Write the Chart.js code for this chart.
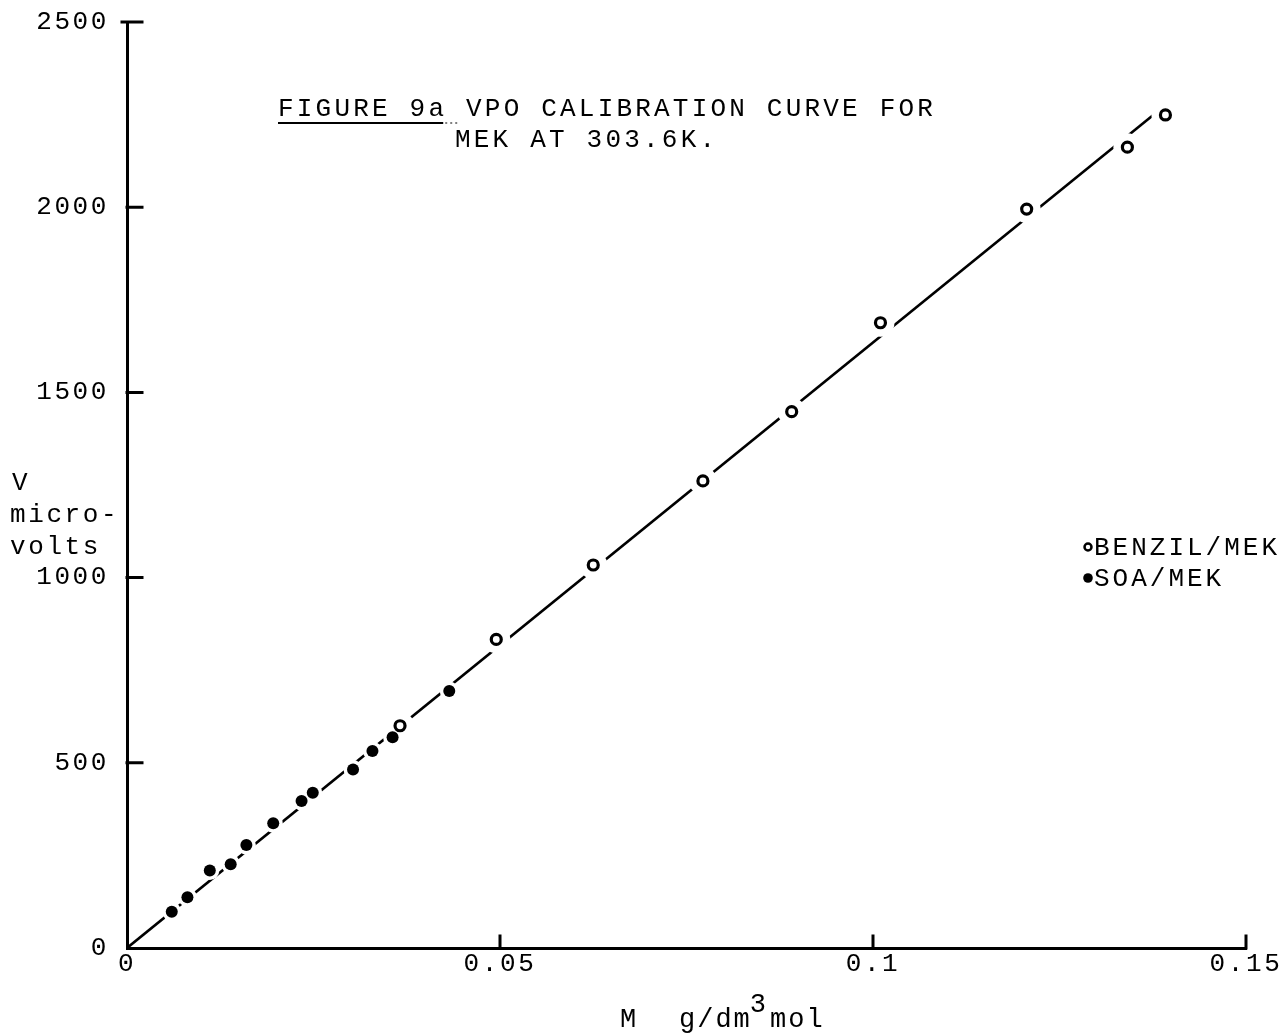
<!DOCTYPE html>
<html>
<head>
<meta charset="utf-8">
<script src="https://cdn.jsdelivr.net/npm/chart.js@4/dist/chart.umd.min.js"></script>
<style>
  html, body { margin: 0; padding: 0; background: #fff; }
  canvas { display: block; }
</style>
</head>
<body>
<canvas id="c" width="1286" height="1033"></canvas>
<script>
// Benzil in MEK (open circles): concentration M (g/dm3 mol) and signal V (microvolts)
const benzilX = [0.0366, 0.0495, 0.0625, 0.0772, 0.0891, 0.1010, 0.1206, 0.1341, 0.1392];
const benzilY = [600, 833, 1034, 1261, 1448, 1688, 1995, 2162, 2249];

// SOA in MEK (filled circles)
const soaX = [0.0060, 0.0081, 0.0111, 0.0139, 0.0160, 0.0196, 0.0234, 0.0249, 0.0303, 0.0329, 0.0356, 0.0432];
const soaY = [98, 137, 209, 226, 278, 337, 397, 419, 482, 532, 569, 694];

// Calibration line through the origin
const fitX = [0, 0.1391];
const fitY = [0, 2274];

// Axis ticks and labels
const xTickValues = [0, 0.05, 0.1, 0.15];
const xTickLabels = ['0', '0.05', '0.1', '0.15'];
const yTickValues = [0, 500, 1000, 1500, 2000, 2500];
const yTickLabels = ['0', '500', '1000', '1500', '2000', '2500'];

// Text blocks
const titleLines = ['FIGURE 9a VPO CALIBRATION CURVE FOR', 'MEK AT 303.6K.'];
const titleUnderlined = 'FIGURE 9a';
const yTitleLines = ['V', 'micro-', 'volts'];
const xTitleParts = ['M', 'g/dm', '3', 'mol'];
const legendLabels = ['BENZIL/MEK', 'SOA/MEK'];

const TYPE = '"Liberation Mono", "DejaVu Sans Mono", monospace';
const SPACING = '2.6px';

const pts = (xs, ys) => xs.map((x, i) => ({ x: x, y: ys[i] }));

// Typewriter spacing for every piece of text the chart draws
const spacingPlugin = {
  id: 'typeSpacing',
  beforeLayout(chart) { chart.ctx.letterSpacing = SPACING; },
  beforeDraw(chart) {
    const ctx = chart.ctx;
    ctx.save();
    ctx.fillStyle = '#fff';
    ctx.fillRect(0, 0, chart.width, chart.height);
    ctx.restore();
    ctx.letterSpacing = SPACING;
  }
};

// Inward tick marks on both axes
const innerTicks = {
  id: 'innerTicks',
  afterDatasetsDraw(chart) {
    const ctx = chart.ctx, xs = chart.scales.x, ys = chart.scales.y;
    ctx.save();
    ctx.strokeStyle = '#000';
    ctx.lineWidth = 3;
    ctx.lineCap = 'square';
    ctx.beginPath();
    xs.ticks.forEach(t => {
      if (t.value === 0) return;
      const px = xs.getPixelForValue(t.value);
      ctx.moveTo(px, ys.bottom);
      ctx.lineTo(px, ys.bottom - 12);
    });
    ys.ticks.forEach(t => {
      if (t.value === 0) return;
      const py = ys.getPixelForValue(t.value);
      const start = t.value === ys.max ? xs.left - 5 : xs.left;
      ctx.moveTo(start, py);
      ctx.lineTo(xs.left + 15, py);
    });
    ctx.stroke();
    ctx.restore();
  }
};

// Title, axis titles and key
const annotations = {
  id: 'annotations',
  afterDraw(chart) {
    const ctx = chart.ctx;
    ctx.save();
    ctx.fillStyle = '#000';
    ctx.strokeStyle = '#000';
    ctx.font = '26px ' + TYPE;
    ctx.letterSpacing = '3.2px';
    ctx.textBaseline = 'middle';
    ctx.textAlign = 'left';

    // figure title
    ctx.fillText(titleLines[0], 278, 109);
    ctx.fillText(titleLines[1], 455, 140);
    const uw = ctx.measureText(titleUnderlined).width;
    ctx.lineWidth = 2;
    ctx.beginPath();
    ctx.moveTo(278, 123);
    ctx.lineTo(278 + uw - 4, 123);
    ctx.stroke();
    ctx.lineWidth = 1.2;
    ctx.setLineDash([2, 3]);
    ctx.beginPath();
    ctx.moveTo(278 + uw - 2, 123);
    ctx.lineTo(458, 123);
    ctx.stroke();
    ctx.setLineDash([]);

    // y axis title (stacked, horizontal)
    ctx.letterSpacing = '2.6px';
    ctx.fillText(yTitleLines[0], 12, 483);
    ctx.fillText(yTitleLines[1], 10, 515);
    ctx.fillText(yTitleLines[2], 10, 547);

    // x axis title with superscript
    ctx.font = '27px ' + TYPE;
    ctx.letterSpacing = '2px';
    ctx.fillText(xTitleParts[0], 620, 1020);
    let x = 679;
    ctx.fillText(xTitleParts[1], x, 1020);
    x += ctx.measureText(xTitleParts[1]).width;
    ctx.fillText(xTitleParts[2], x - 2, 1005);
    x += ctx.measureText(xTitleParts[2]).width;
    ctx.fillText(xTitleParts[3], x, 1020);

    // key
    ctx.font = '26px ' + TYPE;
    ctx.letterSpacing = '3px';
    ctx.fillText(legendLabels[0], 1094, 548);
    ctx.fillText(legendLabels[1], 1094, 579);
    ctx.lineWidth = 2.5;
    ctx.beginPath();
    ctx.arc(1088, 547, 3.5, 0, Math.PI * 2);
    ctx.fillStyle = '#fff';
    ctx.fill();
    ctx.stroke();
    ctx.fillStyle = '#000';
    ctx.beginPath();
    ctx.arc(1088, 578, 4.8, 0, Math.PI * 2);
    ctx.fill();
    ctx.restore();
  }
};

new Chart(document.getElementById('c'), {
  type: 'scatter',
  data: {
    datasets: [
      {
        label: 'Calibration line',
        data: pts(fitX, fitY),
        showLine: true,
        borderColor: '#000',
        borderWidth: 2.6,
        pointRadius: 0,
        order: 3
      },
      {
        label: 'BENZIL/MEK gap',
        data: pts(benzilX, benzilY),
        pointRadius: 14,
        pointBackgroundColor: '#fff',
        pointBorderWidth: 0,
        order: 2
      },
      {
        label: 'SOA/MEK gap',
        data: pts(soaX, soaY),
        pointRadius: 9.5,
        pointBackgroundColor: '#fff',
        pointBorderWidth: 0,
        order: 2
      },
      {
        label: legendLabels[0],
        data: pts(benzilX, benzilY),
        pointRadius: 5,
        pointBorderWidth: 3.2,
        pointBorderColor: '#000',
        pointBackgroundColor: '#fff',
        order: 1
      },
      {
        label: legendLabels[1],
        data: pts(soaX, soaY),
        pointRadius: 6,
        pointBorderWidth: 0,
        pointBackgroundColor: '#000',
        order: 1
      }
    ]
  },
  options: {
    responsive: false,
    animation: false,
    devicePixelRatio: 1,
    events: [],
    layout: { padding: { top: 22, right: 40, left: 0, bottom: 0 } },
    plugins: {
      legend: { display: false },
      tooltip: { enabled: false },
      title: { display: false }
    },
    scales: {
      x: {
        type: 'linear',
        min: 0,
        max: 0.15,
        afterBuildTicks(scale) { scale.ticks = xTickValues.map(v => ({ value: v })); },
        afterFit(scale) {
          scale.height = 85;
          scale.paddingLeft = 0;
          scale.paddingRight = 0;
        },
        grid: { display: false, drawTicks: false },
        border: { display: true, color: '#000', width: 3 },
        ticks: {
          color: '#000',
          padding: 1,
          maxRotation: 0,
          autoSkip: false,
          font: { family: TYPE, size: 26 },
          callback(value) {
            const i = xTickValues.indexOf(value);
            return i >= 0 ? xTickLabels[i] : '';
          }
        }
      },
      y: {
        type: 'linear',
        min: 0,
        max: 2500,
        afterBuildTicks(scale) { scale.ticks = yTickValues.map(v => ({ value: v })); },
        afterFit(scale) {
          scale.width = 127;
          scale.paddingTop = 0;
          scale.paddingBottom = 0;
        },
        grid: { display: false, drawTicks: false },
        border: { display: true, color: '#000', width: 3 },
        ticks: {
          color: '#000',
          padding: 18,
          autoSkip: false,
          font: { family: TYPE, size: 26 },
          callback(value) {
            const i = yTickValues.indexOf(value);
            return i >= 0 ? yTickLabels[i] : '';
          }
        }
      }
    }
  },
  plugins: [spacingPlugin, innerTicks, annotations]
});
</script>
</body>
</html>
